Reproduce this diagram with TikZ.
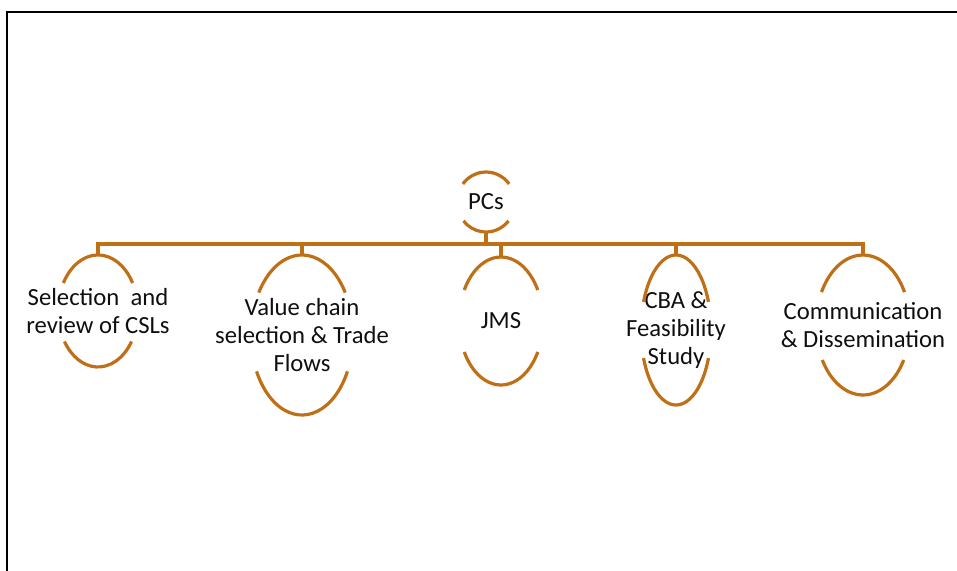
\documentclass[tikz,border=0pt]{standalone}
\usepackage{fontspec}
\setmainfont{Carlito}
\usetikzlibrary{calc}
\definecolor{brn}{RGB}{191,111,22}
\definecolor{txt}{RGB}{15,15,15}
\newcommand\splitellipse[5]{%
  \draw[brline] ($(#1)+(#4:#2 and #3)$) arc[start angle=#4,end angle=180-#4,x radius=#2,y radius=#3];
  \draw[brline] ($(#1)+(-#5:#2 and #3)$) arc[start angle=-#5,end angle=-180+#5,x radius=#2,y radius=#3];
  \coordinate (#1-top) at ($(#1)+(0,#3)$);
  \coordinate (#1-bot) at ($(#1)+(0,-#3)$);
}
\begin{document}
\begin{tikzpicture}[x=0.75pt,y=0.75pt,
  lbl/.style={align=center,text=txt,font=\fontsize{18.5}{21}\selectfont,inner sep=0pt},
  brline/.style={draw=brn,line width=2.4pt},
  frame/.style={draw=black,line width=1.6pt}]
\useasboundingbox (0,0) rectangle (957,-571);
\draw[frame] (7,-571) -- (7,-12) -- (957,-12);

\node[lbl] (pcs) at (486,-202) {PCs};
\node[lbl] (n1) at (98,-311) {Selection\ \ and\\review of CSLs};
\node[lbl] (n2) at (302,-335) {Value chain\\selection \& Trade\\Flows};
\node[lbl] (n3) at (501,-321) {JMS};
\node[lbl] (n4) at (676,-330) {CBA \&\\Feasibility\\Study};
\node[lbl] (n5) at (863,-325) {Communication\\\& Dissemination};

\splitellipse{pcs}{29}{30}{37}{39}
\splitellipse{n1}{40}{56}{30}{33}
\splitellipse{n2}{51}{80}{32}{27}
\splitellipse{n3}{42}{64}{29}{29}
\splitellipse{n4}{35}{75}{22}{22}
\splitellipse{n5}{47}{70}{28}{30}

\coordinate (bus) at (0,-244);
\draw[brline] (pcs-bot) -- (pcs-bot |- bus);
\draw[brline] (n1-top) -- (n1-top |- bus) -- (n5-top |- bus) -- (n5-top);
\foreach \k in {n2,n3,n4} {\draw[brline] (\k-top) -- (\k-top |- bus);}
\end{tikzpicture}
\end{document}
